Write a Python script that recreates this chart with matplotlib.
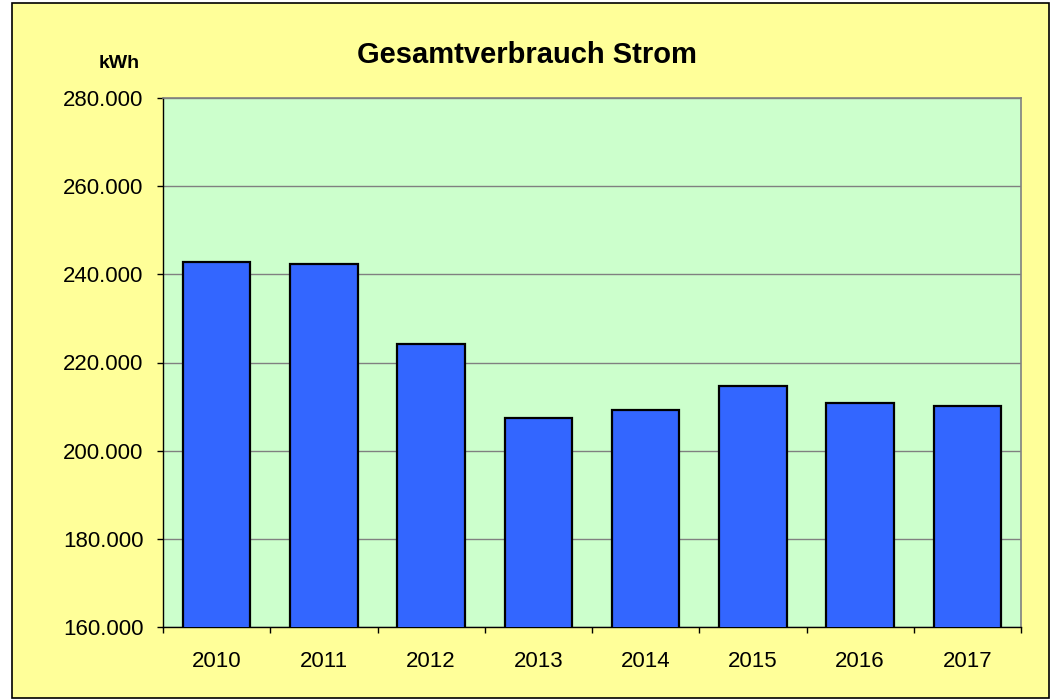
import matplotlib
matplotlib.use("Agg")
import matplotlib.pyplot as plt
from matplotlib.patches import Rectangle
from matplotlib.ticker import FuncFormatter, FixedLocator
import numpy as np

years = ["2010", "2011", "2012", "2013", "2014", "2015", "2016", "2017"]
values = [242850, 242260, 224300, 207400, 209300, 214660, 210800, 210050]
title = "Gesamtverbrauch Strom"
unit = "kWh"

plt.rcParams['font.family'] = ['Liberation Sans', 'DejaVu Sans']

W, H = 1059, 700
fig = plt.figure(figsize=(W / 100, H / 100), dpi=100)
fig.patch.set_facecolor("white")

# outer chart frame
fig.patches.append(Rectangle((12 / W, 1 - 697.5 / H), (1048.5 - 12) / W, (697.5 - 3) / H,
                             transform=fig.transFigure, facecolor="#FFFF99",
                             edgecolor="black", linewidth=1.2, zorder=0))

left, right, top, bottom = 163, 1021, 98, 627
ax = fig.add_axes([left / W, 1 - bottom / H, (right - left) / W, (bottom - top) / H])
ax.set_zorder(5)
ax.set_facecolor("#CCFFCC")

x = np.arange(len(years))
ax.bar(x, values, width=0.63, color="#3366FF", edgecolor="black", linewidth=1.6, zorder=3)

ax.set_xlim(-0.5, len(years) - 0.5)
ax.set_ylim(160000, 280000)
ax.set_yticks(np.arange(160000, 280001, 20000))
ax.yaxis.set_major_formatter(FuncFormatter(lambda v, p: f"{int(v):,}".replace(",", ".")))
ax.grid(axis="y", color="#808080", linewidth=1.0, zorder=1)

ax.set_xticks(x)
ax.set_xticklabels(years)
ax.xaxis.set_minor_locator(FixedLocator(np.arange(-0.5, len(years), 1.0)))
ax.tick_params(axis="x", which="major", length=0, pad=17, labelsize=16)
ax.tick_params(axis="x", which="minor", length=4, width=1, color="black", direction="out")
ax.tick_params(axis="y", which="major", length=4, width=1, pad=10, labelsize=16, direction="out")

for s in ["top", "right"]:
    ax.spines[s].set_color("#808080")
    ax.spines[s].set_linewidth(1.2)
for s in ["left", "bottom"]:
    ax.spines[s].set_color("black")
    ax.spines[s].set_linewidth(1.0)

fig.text(527 / W, 1 - 55 / H, title, ha="center", va="center", fontsize=21, fontweight="bold", zorder=6)
fig.text(119 / W, 1 - 63 / H, unit, ha="center", va="center", fontsize=14, fontweight="bold", zorder=6)

fig.savefig("out.png", dpi=100)
